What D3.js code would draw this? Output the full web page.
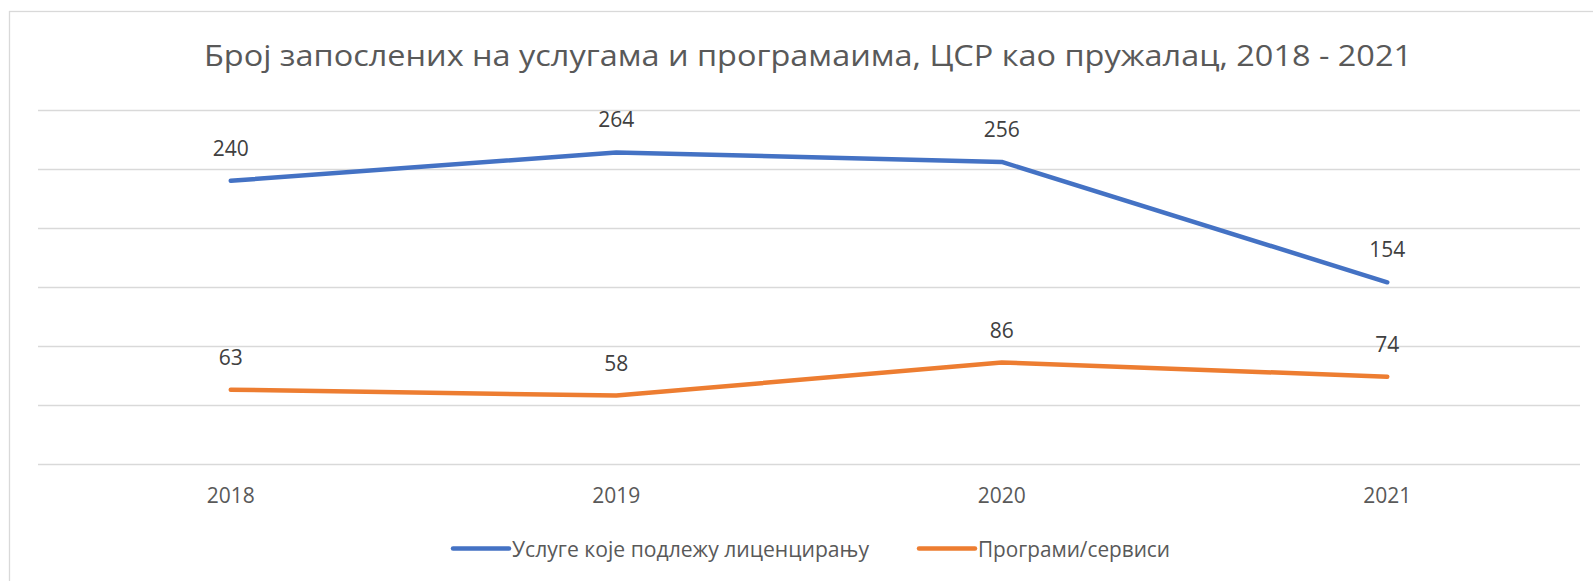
<!DOCTYPE html>
<html>
<head>
<meta charset="utf-8">
<script src="https://cdn.jsdelivr.net/npm/d3@7"></script>
<style>
  html, body { margin: 0; padding: 0; background: #fff; }
  svg { display: block; }
</style>
</head>
<body>
<svg id="chart" width="1593" height="581"></svg>
<script>
const titleText = "Број запослених на услугама и програмаима, ЦСР као пружалац, 2018 - 2021";
const years = ["2018", "2019", "2020", "2021"];
const seriesNames = ["Услуге које подлежу лиценцирању", "Програми/сервиси"];
const licensedValues = [240, 264, 256, 154];
const programValues = [63, 58, 86, 74];
const yTicks = [0, 50, 100, 150, 200, 250, 300];
const colors = ["#4472C4", "#ED7D31"];

const series = [
  { name: seriesNames[0], values: licensedValues, color: colors[0] },
  { name: seriesNames[1], values: programValues, color: colors[1] }
];

const svg = d3.select("#chart");
const font = "'Open Sans', 'Noto Sans', sans-serif";

// outer chart border
svg.append("rect")
  .attr("x", 9.5).attr("y", 11.5)
  .attr("width", 1700).attr("height", 700)
  .attr("fill", "none").attr("stroke", "#d9d9d9").attr("stroke-width", 1.3);

const plot = { left: 38, right: 1580, top: 110, bottom: 464 };

const x = d3.scaleBand().domain(years).range([plot.left, plot.right]);
const y = d3.scaleLinear().domain([0, 300]).range([plot.bottom, plot.top]);

// gridlines
const grid = svg.append("g")
  .attr("transform", `translate(${plot.left},0)`)
  .call(d3.axisLeft(y).tickValues(yTicks).tickSize(-(plot.right - plot.left)).tickFormat(""));
grid.select(".domain").remove();
grid.selectAll(".tick line").attr("stroke", "#d9d9d9").attr("stroke-width", 1.3);

// x axis labels
const xa = svg.append("g")
  .attr("transform", `translate(0,${plot.bottom})`)
  .call(d3.axisBottom(x).tickSize(0).tickPadding(0));
xa.select(".domain").remove();
xa.selectAll(".tick text")
  .attr("y", 39).attr("dy", 0)
  .attr("font-family", font).attr("font-size", 21)
  .attr("fill", "#595959");

const cx = d => x(d) + x.bandwidth() / 2;
const line = d3.line().x((d, i) => cx(years[i])).y(d => y(d));

series.forEach(s => {
  svg.append("path")
    .attr("d", line(s.values))
    .attr("fill", "none")
    .attr("stroke", s.color)
    .attr("stroke-width", 4.5)
    .attr("stroke-linecap", "round")
    .attr("stroke-linejoin", "round");
  svg.append("g").selectAll("text")
    .data(s.values)
    .join("text")
    .attr("x", (d, i) => cx(years[i]))
    .attr("y", d => y(d) - 25)
    .attr("text-anchor", "middle")
    .attr("font-family", font).attr("font-size", 21)
    .attr("fill", "#404040")
    .text(d => d);
});

// title
svg.append("text")
  .attr("x", 204).attr("y", 66)
  .attr("font-family", font).attr("font-size", 30)
  .attr("fill", "#595959")
  .attr("textLength", 1208).attr("lengthAdjust", "spacingAndGlyphs")
  .text(titleText);

// legend
const legendItems = [
  { x1: 453, x2: 509, tx: 512, tw: 357 },
  { x1: 919, x2: 975, tx: 978, tw: 192 }
];
series.forEach((s, i) => {
  const L = legendItems[i];
  svg.append("line")
    .attr("x1", L.x1).attr("x2", L.x2)
    .attr("y1", 548.5).attr("y2", 548.5)
    .attr("stroke", s.color).attr("stroke-width", 4.5)
    .attr("stroke-linecap", "round");
  svg.append("text")
    .attr("x", L.tx).attr("y", 557)
    .attr("font-family", font).attr("font-size", 21)
    .attr("fill", "#595959")
    .attr("textLength", L.tw).attr("lengthAdjust", "spacingAndGlyphs")
    .text(s.name);
});
</script>
</body>
</html>
